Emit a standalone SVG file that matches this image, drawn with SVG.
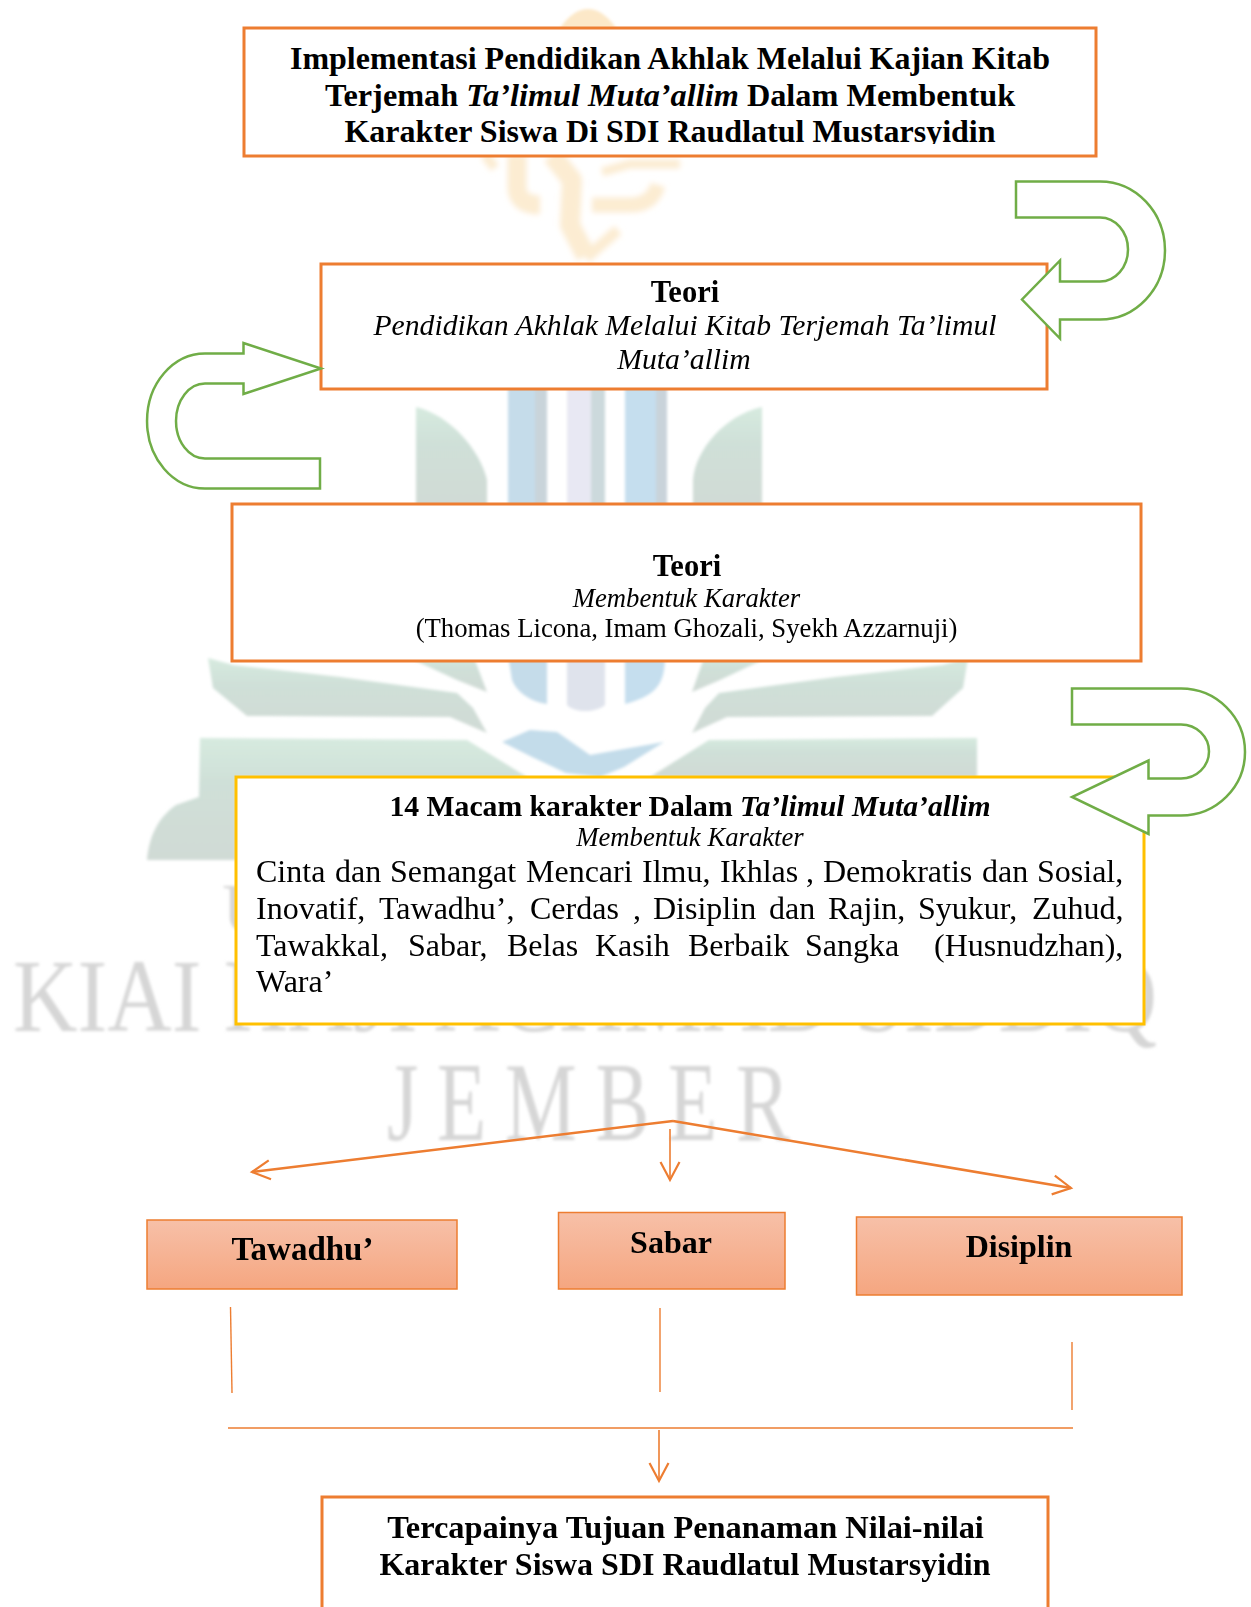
<svg xmlns="http://www.w3.org/2000/svg" width="1251" height="1607" viewBox="0 0 1251 1607">
<style>
text{font-family:"Liberation Serif","Times New Roman",serif;fill:#000}
.c{text-anchor:middle}
.b{font-weight:700}
.i{font-style:italic}
.t32{font-size:32px}.t30{font-size:30.500px}.t29{font-size:29.700px}.t26{font-size:26.700px}
.box{fill:#fff;stroke:#ed7d31;stroke-width:3}
.pill{fill:url(#pg);stroke:#ed7d31;stroke-width:1.5}
.curve{fill:#fff;stroke:#70ad47;stroke-width:2.5;stroke-linejoin:miter}
.thick{fill:none;stroke:#ed7d31;stroke-width:2.5;marker-end:url(#head)}
.thin{fill:none;stroke:#ed7d31;stroke-width:1.4}
.wm{fill:#d6d6d6;font-family:"Liberation Serif",serif}
.gr{fill:url(#lg)}
.or{fill:none;stroke:#fcecd2;stroke-linecap:butt;stroke-linejoin:round}
</style>
<defs>
<filter id="soft" x="-5%" y="-5%" width="110%" height="110%"><feGaussianBlur stdDeviation="1.8"/></filter>
<filter id="softer" x="-20%" y="-20%" width="140%" height="140%"><feGaussianBlur stdDeviation="2.5"/></filter>
<linearGradient id="pg" x1="0" y1="0" x2="0" y2="1"><stop offset="0" stop-color="#f7c0a8"/><stop offset="1" stop-color="#f5a680"/></linearGradient>
<linearGradient id="lg" x1="0" y1="0" x2="0" y2="1"><stop offset="0" stop-color="#d6eadf"/><stop offset=".35" stop-color="#cfe0d8"/><stop offset="1" stop-color="#d0dad5"/></linearGradient>
<marker id="head" markerUnits="userSpaceOnUse" markerWidth="24" markerHeight="26" refX="20" refY="12" orient="auto"><path d="M2 2.500L20 12L2 21.500" fill="none" stroke="#ed7d31" stroke-width="2.200"/></marker>
<clipPath id="titleclip"><rect x="244" y="28" width="852" height="116"/></clipPath>
</defs>
<rect width="1251" height="1607" fill="#fff"/>
<g id="watermark" filter="url(#soft)">
<path d="M560 28C568 16 578 9 588 9C598 9 608 16 616 28Z" fill="#fce8c8"/>
<g class="or" filter="url(#softer)">
<path d="M485 155L495 168" stroke-width="10"/>
<path d="M517 155V188Q518 205 540 205" stroke-width="19"/>
<path d="M552 155L572 180L570 225L586 256" stroke-width="20"/>
<path d="M586 258L618 230" stroke-width="11"/>
<path d="M602 172L630 164H680" stroke-width="9"/>
<path d="M592 205H630Q652 205 658 185" stroke-width="15"/>
</g>
<rect x="508" y="380" width="27" height="130" fill="#c5dcea"/><rect x="535" y="380" width="12" height="130" fill="#c9d4da"/>
<rect x="567" y="380" width="24" height="130" fill="#e8e8f3"/><rect x="591" y="380" width="14" height="130" fill="#ccd9dc"/>
<rect x="625" y="380" width="31" height="130" fill="#c5deee"/><rect x="656" y="380" width="11" height="130" fill="#c9d3da"/>
<path class="gr" d="M416 407C450 415 480 450 487 480V510H416Z"/>
<path class="gr" d="M762 407C725 415 695 450 693 480V510H762Z"/>
<path d="M508 655H547V704C535 703 518 695 512 680Z" fill="#c5dcea"/>
<path d="M567 655H605V705C595 713 575 713 567 705Z" fill="#dfe3ec"/>
<path d="M625 655H665C665 680 660 695 625 704Z" fill="#c5deee"/>
<g id="wm-leaves">
<path class="gr" d="M208 658L233 665L340 677L457 693L473 708L487 733L450 717L247 716L213 688Z"/>
<path class="gr" d="M403 655H473L487 692L457 680Z"/>
<path class="gr" d="M968 658L943 665L836 677L719 693L705 708L692 733L727 717L932 716L963 688Z"/>
<path class="gr" d="M773 655H705L692 692L720 680Z"/>
<path class="gr" d="M200 738L467 740L527 777H236V860H147C149 840 155 820 176 805L199 797Z"/>
<path class="gr" d="M977 738L709 740L650 777H977Z"/>
</g>
<path d="M502 742L530 730L557 732L590 755L664 742L624 767L600 777L566 773L532 757Z" fill="#c3dcea"/>
<text class="wm" x="222" y="932" font-size="70" textLength="54" lengthAdjust="spacingAndGlyphs">U</text>
<text class="wm" x="13" y="1031" font-size="104" textLength="1144" lengthAdjust="spacingAndGlyphs">KIAI HAJI ACHMAD SIDDIQ</text>
<text class="wm" transform="translate(387 1140) scale(.72 1)" x="0" y="0" font-size="112" letter-spacing="26">JEMBER</text>
</g>
<g id="node-title">
<rect class="box" x="244" y="28" width="852" height="128"/>
<g clip-path="url(#titleclip)">
<text class="c b t32" x="670" y="69">Implementasi Pendidikan Akhlak Melalui Kajian Kitab</text>
<text class="c b" style="font-size:32.300px" x="670" y="106">Terjemah <tspan class="i">Ta’limul Muta’allim</tspan> Dalam Membentuk</text>
<text class="c b t32" x="670" y="142">Karakter Siswa Di SDI Raudlatul Mustarsyidin</text>
</g>
</g>
<g id="node-teori-1">
<rect class="box" x="321" y="264" width="726" height="125"/>
<text class="c b t30" x="685" y="302">Teori</text>
<text class="c i t29" x="685" y="335">Pendidikan Akhlak Melalui Kitab Terjemah Ta’limul</text>
<text class="c i t29" x="684" y="369">Muta’allim</text>
</g>
<g id="node-teori-2">
<rect class="box" x="232" y="504" width="909" height="157"/>
<text class="c b t30" x="687" y="576">Teori</text>
<text class="c i t26" x="686.500" y="607">Membentuk Karakter</text>
<text class="c t26" x="686.500" y="637">(Thomas Licona, Imam Ghozali, Syekh Azzarnuji)</text>
</g>
<g id="node-macam">
<rect x="236" y="777" width="908" height="247" fill="#fff" stroke="#ffc000" stroke-width="3"/>
<text class="c b t29" x="690" y="816">14 Macam karakter Dalam <tspan class="i">Ta’limul Muta’allim</tspan></text>
<text class="c i t26" x="690" y="846">Membentuk Karakter</text>
<text class="t32" y="882"><tspan x="256">Cinta</tspan> <tspan x="335">dan</tspan> <tspan x="390">Semangat</tspan> <tspan x="526">Mencari</tspan> <tspan x="642">Ilmu,</tspan> <tspan x="720">Ikhlas</tspan> <tspan x="806">,</tspan> <tspan x="823">Demokratis</tspan> <tspan x="982">dan</tspan> <tspan x="1037">Sosial,</tspan></text>
<text class="t32" y="919"><tspan x="256">Inovatif,</tspan> <tspan x="379">Tawadhu’,</tspan> <tspan x="530">Cerdas</tspan> <tspan x="633">,</tspan> <tspan x="653">Disiplin</tspan> <tspan x="769">dan</tspan> <tspan x="828">Rajin,</tspan> <tspan x="918">Syukur,</tspan> <tspan x="1032">Zuhud,</tspan></text>
<text class="t32" y="956"><tspan x="256">Tawakkal,</tspan> <tspan x="408">Sabar,</tspan> <tspan x="507">Belas</tspan> <tspan x="595">Kasih</tspan> <tspan x="688">Berbaik</tspan> <tspan x="805">Sangka</tspan> <tspan x="934">(Husnudzhan),</tspan></text>
<text class="t32" x="256" y="992">Wara’</text>
</g>
<g id="curved-arrows">
<path id="curve-1" class="curve" d="M1016 181.500H1100A65 69 0 0 1 1100 319.500H1060V338.500L1022 299.500L1060 260.500V281.500H1100A28 32 0 0 0 1100 217.500H1016Z"/>
<path id="curve-2" class="curve" d="M320 488.500H205A58 67.500 0 0 1 205 353.500H243.500V343L321 368.500L243.500 394V383.500H205A29 37.500 0 0 0 205 458.500H320Z"/>
<path id="curve-3" class="curve" d="M1072 688.500H1181A64 63.500 0 0 1 1181 815.500H1148.500V834L1072 797L1148.500 760.500V778.500H1181A28 27 0 0 0 1181 724.500H1072Z"/>
</g>
<g id="node-tawadhu">
<rect class="pill" x="147" y="1220" width="310" height="69"/>
<text class="c b" style="font-size:33px" x="302.500" y="1260">Tawadhu’</text>
</g>
<g id="node-sabar">
<rect class="pill" x="558.500" y="1212.500" width="226.500" height="76.500"/>
<text class="c b t32" x="671" y="1253">Sabar</text>
</g>
<g id="node-disiplin">
<rect class="pill" x="856.500" y="1217" width="325.500" height="78"/>
<text class="c b t32" x="1019" y="1257">Disiplin</text>
</g>
<g id="node-tujuan">
<rect class="box" x="322" y="1497" width="726" height="130"/>
<text class="c b" style="font-size:32.400px" x="685.500" y="1538">Tercapainya Tujuan Penanaman Nilai-nilai</text>
<text class="c b t32" x="685" y="1575">Karakter Siswa SDI Raudlatul Mustarsyidin</text>
</g>
<g id="connectors">
<line class="thick" x1="673" y1="1121" x2="252" y2="1172"/>
<line class="thick" x1="673" y1="1121" x2="1071" y2="1188"/>
<line class="thick" x1="670" y1="1129" x2="670" y2="1180" style="stroke-width:1.600"/>
<line class="thin" x1="230.500" y1="1307" x2="232" y2="1393"/>
<line class="thin" x1="660" y1="1308" x2="660" y2="1392"/>
<line class="thin" x1="1072" y1="1342" x2="1072" y2="1410"/>
<line class="thin" x1="228" y1="1428" x2="1073" y2="1428"/>
<line class="thick" x1="659" y1="1430" x2="659" y2="1481" style="stroke-width:1.600"/>
</g>
</svg>
